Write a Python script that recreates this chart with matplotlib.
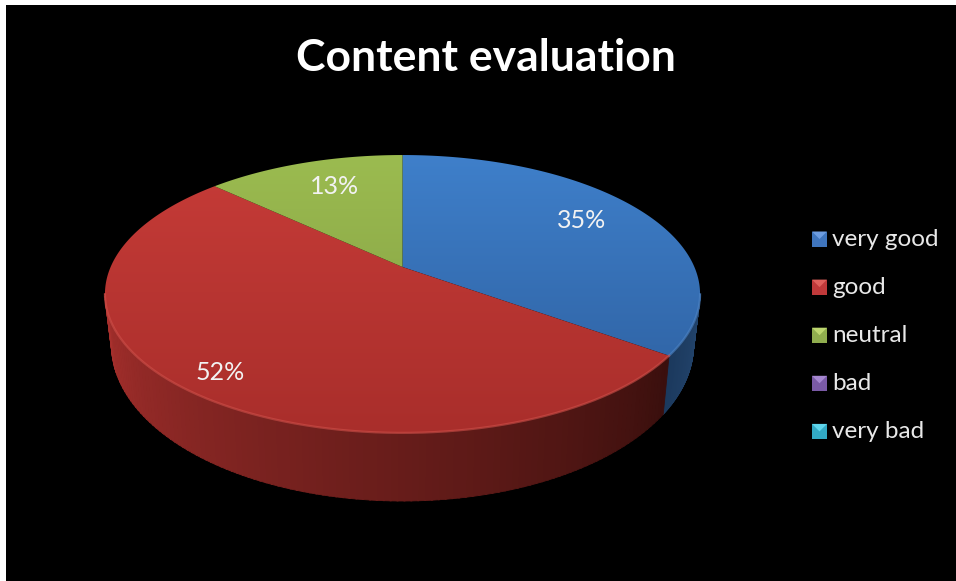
import numpy as np
import matplotlib
matplotlib.use("Agg")
from matplotlib import pyplot as plt
from matplotlib.colors import LinearSegmentedColormap, to_rgb
from matplotlib.patches import Polygon, Rectangle

title = "Content evaluation"
categories = ["very good", "good", "neutral", "bad", "very bad"]
percent = [35, 52, 13, 0, 0]
legend_colors = ["#3f75bd", "#c0393a", "#90ad4e", "#7a5aa6", "#32a9c4"]
legend_tops = ["#6c9ce0", "#e0605c", "#bdd66f", "#a587d0", "#5fd6ec"]

# top face colours per slice, far edge then near edge
top_far = ["#3f80cb", "#c73c38", "#9cbc50"]
top_near = ["#2c5d9c", "#a92e2b", "#7f9a42"]
# side wall colours per slice, start angle then end angle
wall_start = ["#24466f", "#3a0f0d", "#6b8238"]
wall_end = ["#1c3a5e", "#a8302d", "#6b8238"]
rim_light = ["#4f86c8", "#d0504a", "#b0cc60"]

plt.rcParams["font.family"] = ["Lato", "DejaVu Sans"]

# the tilted disc: a unit circle seen in perspective
cx, cy = 402.5, 267.0
tilt, sy, sx = -0.194, 81.9, 291.9
half_width = 297.5
# lower rim of the wall
by, brx, bry = 345.0, 291.0, 156.0
# angle where the disc is widest, the wall is only seen between here and its mirror
a_wide = np.arccos(tilt)


def rim(a):
    x, t = np.sin(a), -np.cos(a)
    w = 1 + tilt * t
    return cx + sx * x / w, (cy + sy * t) / w


def bottom(a):
    px, _ = rim(a)
    dx = (px - cx) / half_width
    return cx + brx * dx, by + bry * np.sqrt(np.clip(1 - dx ** 2, 0, 1))


fig = plt.figure(figsize=(9.56, 5.81), dpi=100, facecolor="white")
ax = fig.add_axes([0, 0, 1, 1])
ax.add_patch(Rectangle((6, 5), 950, 576, color="black", lw=0, zorder=0))

shares = np.array(percent[:3]) / sum(percent)
edges = np.concatenate([[0], np.cumsum(shares)]) * 2 * np.pi

# side wall, thin strips so the shade can run along the rim
for i in range(3):
    lo, hi = max(edges[i], a_wide), min(edges[i + 1], 2 * np.pi - a_wide)
    if lo >= hi:
        continue
    steps = np.linspace(lo, hi, 120)
    c0, c1 = np.array(to_rgb(wall_start[i])), np.array(to_rgb(wall_end[i]))
    for k in range(len(steps) - 1):
        s = np.array([steps[k], steps[k + 1] + 0.004])
        tx, ty = rim(s)
        lx, ly = bottom(s)
        f = (k + 0.5) / (len(steps) - 1)
        col = c0 + (c1 - c0) * f
        # a hairline in the same colour closes the seams between strips
        ax.add_patch(Polygon(np.column_stack([np.r_[tx, lx[::-1]], np.r_[ty, ly[::-1]]]),
                             facecolor=col, edgecolor=col, lw=0.6, zorder=2))

# top face of every slice, shaded from back to front
for i in range(3):
    a = np.linspace(edges[i], edges[i + 1], 200)
    rx, ry = rim(a)
    poly = Polygon(np.column_stack([np.r_[cx, rx], np.r_[cy, ry]]), closed=True,
                   facecolor="none", lw=0, zorder=3)
    ax.add_patch(poly)
    cmap = LinearSegmentedColormap.from_list("s", [top_far[i], top_near[i]])
    im = ax.imshow(np.linspace(0, 1, 256).reshape(-1, 1), cmap=cmap, aspect="auto",
                   extent=(100, 705, 435, 150), zorder=3)
    im.set_clip_path(poly)
    # soft highlight along the front edge
    front = (a > a_wide) & (a < 2 * np.pi - a_wide)
    if front.any():
        ax.plot(rx[front], ry[front], color=rim_light[i], lw=1.6, alpha=0.6, zorder=4)

ax.set_xlim(0, 956)
ax.set_ylim(581, 0)
ax.axis("off")

# percent labels
for i, (lx, ly) in enumerate([(582, 220), (220.5, 372), (335, 187)]):
    ax.text(lx, ly, "%d%%" % percent[i], color="#f2f2f2", fontsize=18, ha="center", va="center", zorder=5)

ax.text(486, 58, title, color="white", fontsize=32, fontweight="bold", ha="center", va="center")

# legend keys with the lighter pillow top
for i, name in enumerate(categories):
    y = 239 + i * 48.1
    x0, x1 = 812, 827
    ax.add_patch(Rectangle((x0, y - 7.5), 15, 15, color=legend_colors[i], lw=0, zorder=4))
    ax.add_patch(Polygon([(x0, y - 7.5), (x1, y - 7.5), ((x0 + x1) / 2, y)], color=legend_tops[i], lw=0, zorder=5))
    ax.text(832, y, name, color="#e8e8e8", fontsize=17.5, va="center", zorder=5)

fig.savefig("out.png", dpi=100, facecolor="white")
